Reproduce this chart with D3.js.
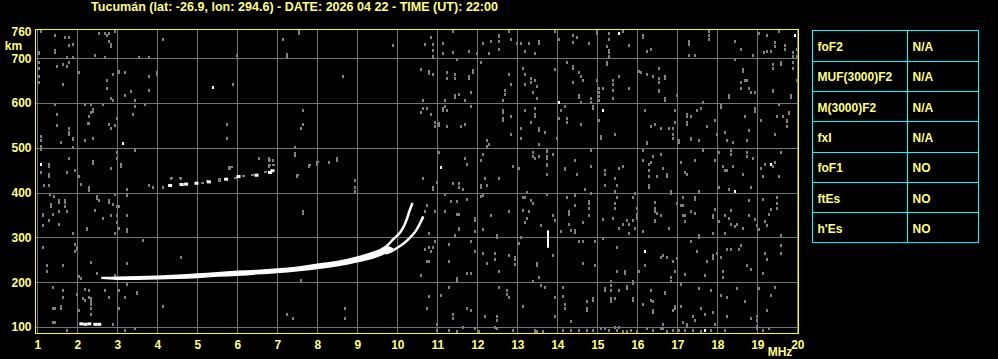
<!DOCTYPE html>
<html>
<head>
<meta charset="utf-8">
<script src="https://cdn.jsdelivr.net/npm/d3@7"></script>
<style>
  html, body { margin: 0; padding: 0; background: #000; }
  svg { display: block; font-family: "Liberation Sans", Arial, sans-serif; font-weight: bold; }
</style>
</head>
<body>
<div id="wrapper"></div>
<script>
// ---- data ----
const titleText = "Tucumán (lat: -26.9, lon: 294.6) - DATE: 2026 04 22 - TIME (UT): 22:00";
const freqTicks = d3.range(1, 21);                 // MHz
const heightTicks = [100, 200, 300, 400, 500, 600, 700, 760];   // km
const gridHeights = [100, 200, 300, 400, 500, 600, 700];

const paramNames = ["foF2", "MUF(3000)F2", "M(3000)F2", "fxI", "foF1", "ftEs", "h'Es"];
const paramValues = ["N/A", "N/A", "N/A", "N/A", "NO", "NO", "NO"];

// main F trace (band between lower and upper edge)
const mainFreq   = [2.6, 3.0, 3.5, 4.0, 4.5, 5.0, 5.5, 6.0, 6.5, 7.0, 7.5, 8.0, 8.5, 9.0, 9.5, 9.75, 9.9];
const mainTop    = [212, 213, 214, 215, 217, 220, 223, 226, 228, 231, 235, 242, 248, 258, 272, 281, 276];
const mainBottom = [207, 205, 205, 206, 207, 209, 212, 214, 217, 220, 224, 229, 235, 244, 256, 265, 272];

// the two split branches near the critical frequency
const oBranch = [[9.6, 272], [9.75, 282], [9.9, 296], [10.07, 311], [10.17, 326], [10.23, 339], [10.3, 358], [10.38, 377]];
const xBranch = [[9.7, 264], [9.85, 269], [10.0, 277], [10.15, 286], [10.3, 298], [10.45, 313], [10.56, 330], [10.65, 347]];

// second hop echo fragments
const secondHop = [[4.32, 416], [4.61, 418], [4.72, 419], [4.98, 421], [5.29, 424], [5.72, 430],
                   [6.03, 436], [6.48, 439], [6.82, 445], [6.88, 449]];
const secondHopGray = [[4.57, 419], [5.11, 422], [5.23, 427], [5.53, 426], [5.53, 430], [5.78, 452], [5.78, 458],
                       [5.83, 458], [6.15, 437], [6.36, 439], [6.69, 445], [4.57, 432], [4.33, 433], [5.94, 432],
                       [6.78, 473], [6.78, 462], [6.9, 462], [7.48, 440], [7.78, 462], [7.98, 469]];

// low sporadic echo
const esTrace = [[2.1, 107], [2.2, 106], [2.3, 107], [2.45, 106], [2.55, 106]];

// isolated vertical spike [freq, low km, high km]
const spike = [13.78, 277, 316];

// isolated white dots
const whiteDots = [[5.39, 637], [3.14, 511], [1.09, 463], [15.54, 756], [14.04, 603], [15.14, 585], [11.09, 457],
                   [19.34, 465], [19.94, 753], [16.19, 269], [17.69, 94], [18.44, 404]];

// grey noise speckle
const noise = [
  [1.08,762],[1.44,753],[1.69,748],[1.79,748],[1.89,733],[1.79,730],[1.44,719],[1.44,715],[1.04,715],[1.04,711],[1.74,704],[1.89,704],
  [2.54,756],[2.68,756],[2.79,756],[2.74,753],[2.79,739],[2.84,732],[2.84,728],[2.44,708],[2.94,762],[2.69,704],[3.54,704],[3.79,704],
  [4.14,744],[5.99,708],[7.14,744],[7.24,710],[7.24,706],[7.54,760],[7.54,756],[9.89,730],
  [1.04,692],[1.04,679],[1.49,683],[1.64,688],[1.74,683],[1.79,692],[1.04,661],[1.04,648],[1.64,643],[2.04,670],[2.74,652],[2.74,634],
  [2.89,666],[3.04,672],[3.04,669],[3.19,670],[2.84,612],[2.89,608],[3.34,626],[3.19,617],[3.44,608],[3.79,661],[3.99,669],[3.99,665],
  [3.79,630],[5.89,643],[8.64,661],
  [1.44,598],[2.19,598],[2.34,598],[2.64,598],[2.39,587],[2.39,583],[2.34,581],[2.29,572],[1.49,575],[2.26,555],[2.29,555],[1.49,550],
  [1.79,545],[1.79,535],[1.79,531],[1.09,527],[1.09,518],[1.89,523],[1.89,519],[1.59,514],[2.19,518],[2.39,523],[2.79,554],[2.84,545],
  [2.94,550],[2.99,567],[3.44,594],[3.39,576],[3.69,598],[5.74,554],[5.74,523],[7.64,585],[7.64,554],[7.59,545],[1.09,505],[1.09,497],
  [1.89,503],[2.99,491],[2.99,478],[3.44,496],[1.79,478],[1.29,463],[1.29,459],[2.39,471],[2.39,467],[3.09,463],[3.09,459],[2.84,456],
  [1.09,445],[1.29,441],[1.29,437],[1.74,445],[1.94,450],[2.04,438],[4.34,433],[4.59,433],[6.54,478],[6.79,478],[6.79,474],[6.89,474],
  [6.79,460],[7.44,503],[7.44,489],[7.44,485],[7.79,460],[7.99,468],[7.99,465],[8.29,469],[8.49,478],[8.49,474],[7.49,438],[8.94,429],
  [10.84,748],[10.89,733],[10.89,719],[10.89,706],[10.89,702],[10.69,733],[11.14,734],[11.39,762],[11.14,712],[11.39,715],[11.79,716],
  [11.99,712],[12.14,734],[12.34,739],[12.54,753],[12.54,749],[12.54,739],[12.29,712],[12.54,721],[12.79,762],[12.84,744],[12.99,734],
  [13.09,734],[13.29,734],[13.54,739],[13.54,735],[13.19,716],[13.44,712],[13.94,762],[14.04,744],[14.39,753],[14.39,737],[14.49,748],
  [14.79,734],[14.99,760],[14.99,756],[15.29,756],[15.29,742],[15.24,728],[15.29,719],[15.29,715],[15.29,706],[15.64,762],[15.79,730],
  [16.14,751],[16.14,747],[16.24,716],[16.34,721],[17.29,739],[17.29,735],[17.29,732],[17.29,708],[17.44,708],[17.79,762],[17.79,753],
  [17.79,744],[18.44,739],[18.59,721],[18.89,708],[19.04,756],[19.24,753],[19.44,737],[19.44,728],[19.54,762],[19.69,730],[19.69,721],
  [19.24,716],[19.16,713],[19.34,716],[19.89,713],[19.89,706],[19.99,721],[19.99,706],
  [10.59,675],[10.79,672],[10.79,668],[10.89,666],[11.24,669],[11.24,655],[11.44,666],[11.44,657],[11.49,698],[11.79,661],[11.79,657],
  [11.89,673],[11.89,669],[12.09,692],[11.44,617],[11.44,613],[11.54,621],[11.69,608],[11.84,625],[11.19,608],[10.64,608],[12.69,630],
  [12.69,621],[12.84,643],[12.79,666],[12.64,608],[13.14,679],[13.19,666],[13.19,643],[13.34,657],[13.34,648],[13.44,652],[13.49,639],
  [13.39,625],[13.49,612],[13.94,675],[14.24,692],[14.39,683],[14.39,679],[14.54,670],[14.59,661],[14.64,652],[14.39,648],[14.54,618],
  [14.54,614],[14.59,603],[14.84,612],[14.84,603],[14.99,652],[15.04,634],[15.04,625],[15.04,616],[15.04,608],[15.24,692],[15.24,688],
  [15.39,652],[15.39,643],[15.54,661],[15.39,630],[15.39,612],[15.14,634],[15.79,634],[16.04,672],[16.09,670],[16.24,666],[16.39,661],
  [16.54,679],[16.54,657],[16.54,648],[16.69,661],[16.69,657],[16.54,630],[16.54,626],[16.69,612],[16.69,608],[16.99,617],[17.64,603],
  [18.29,617],[18.29,613],[18.44,698],[18.64,675],[18.64,671],[18.59,648],[18.69,652],[18.74,652],[18.79,634],[18.84,625],[18.59,634],
  [18.94,625],[19.39,630],[19.39,626],[19.39,688],[19.39,679],[19.59,692],[19.59,688],[19.89,692],[19.89,679],[19.84,617],[19.84,613],
  [19.99,652],
  [10.64,590],[10.59,581],[10.74,590],[10.84,576],[10.94,558],[10.94,549],[11.04,555],[11.04,551],[11.14,590],[11.14,585],[11.24,585],
  [11.19,594],[11.24,549],[11.59,549],[11.69,554],[11.84,594],[12.64,585],[12.64,581],[12.64,567],[12.64,563],[12.84,572],[12.84,532],
  [12.24,518],[12.24,505],[12.29,509],[13.19,585],[13.09,545],[13.34,558],[13.44,590],[13.44,576],[13.44,572],[13.54,545],[13.54,541],
  [13.69,536],[13.09,523],[13.54,509],[13.99,523],[14.09,585],[14.19,594],[14.04,567],[14.24,567],[14.24,558],[14.59,554],[14.89,594],
  [14.89,590],[15.04,563],[15.09,527],[15.09,523],[15.44,532],[16.19,585],[16.34,549],[16.44,554],[16.59,545],[16.24,514],[16.24,510],
  [16.79,545],[16.89,545],[16.89,532],[16.89,523],[16.94,585],[16.94,558],[17.24,576],[17.24,572],[17.34,572],[17.24,558],[17.24,554],
  [17.49,585],[17.59,590],[17.34,523],[17.34,519],[17.04,518],[17.04,514],[17.54,518],[17.74,549],[17.94,563],[17.99,532],[18.09,596],
  [18.09,592],[18.19,536],[18.24,518],[18.39,514],[18.69,572],[18.79,541],[18.74,518],[18.94,590],[18.94,586],[18.94,582],[19.09,563],
  [19.44,532],[19.49,572],[19.64,572],[19.74,563],[19.74,559],[19.79,581],[19.79,577],[19.74,549],[19.54,599],
  [10.64,433],[11.04,491],[11.69,478],[11.74,465],[12.14,487],[12.09,474],[12.19,433],[12.54,433],[12.89,460],[13.04,456],[13.39,491],
  [13.39,482],[13.44,478],[13.54,482],[13.74,496],[13.74,492],[13.74,482],[13.74,478],[13.74,465],[13.74,461],[13.74,442],[13.89,487],
  [14.19,456],[14.19,452],[14.44,474],[14.49,442],[14.84,496],[14.84,460],[15.19,451],[15.19,442],[15.44,433],[15.54,456],[15.64,460],
  [16.14,496],[16.14,474],[16.29,465],[16.29,451],[16.29,438],[16.39,482],[16.34,469],[16.59,487],[16.49,438],[16.64,456],[16.74,441],
  [16.74,437],[17.09,469],[17.19,447],[17.24,442],[17.44,474],[17.64,496],[17.94,474],[18.04,491],[18.14,460],[18.19,451],[18.24,451],
  [18.34,496],[18.34,487],[18.39,460],[18.64,442],[18.74,491],[18.74,482],[18.89,478],[19.09,456],[19.19,465],[19.39,460],[19.44,469],
  [19.59,491],[19.54,438],[19.14,438],
  [1.17,417],[1.29,417],[2.09,420],[2.29,413],[2.29,405],[3.24,409],[3.8,417],[3.9,413],[4.14,413],[8.94,413],[8.94,404],[1.42,393],
  [1.32,398],[1.54,384],[1.54,380],[1.69,384],[1.69,380],[1.34,375],[1.34,371],[1.39,353],[1.14,353],[1.14,349],[1.14,328],[1.29,340],
  [1.54,358],[1.54,331],[1.69,371],[1.74,358],[1.89,310],[2.24,322],[2.24,318],[2.49,393],[2.49,389],[2.54,384],[2.44,362],[2.64,344],
  [2.79,384],[2.79,380],[2.89,374],[2.99,371],[3.04,371],[2.84,349],[2.94,398],[2.99,349],[2.99,335],[3.04,322],[3.24,318],[3.24,314],
  [2.94,310],[3.24,395],[3.24,349],[3.64,295],[1.14,279],[1.94,285],[1.94,270],[2.0,279],[2.0,275],[2.34,246],[3.24,243],[4.59,256],
  [7.64,358],[7.64,354],[1.24,238],[1.24,225],[1.64,238],[2.04,214],[2.09,210],[2.49,221],[2.94,216],[1.39,189],[1.64,182],[1.64,168],
  [1.99,173],[2.19,185],[2.29,182],[2.29,168],[2.34,164],[2.34,159],[2.34,152],[2.34,143],[2.14,165],[2.19,161],[2.69,182],[2.79,167],
  [3.04,182],[3.19,168],[3.24,195],[3.49,179],[3.49,175],[1.39,143],[1.44,143],[1.59,146],[1.59,142],[2.04,139],[2.34,130],[3.04,143],
  [2.89,107],[1.39,112],[1.44,112],[1.74,94],[3.19,94],[3.44,98],[4.14,148],[7.24,130],[7.39,121],[8.69,143],[8.69,121],[7.59,204],
  [10.89,413],[10.89,409],[10.99,424],[11.39,422],[11.54,422],[11.54,413],[11.64,409],[12.09,417],[12.09,413],[12.24,417],[11.19,398],
  [11.34,381],[11.49,381],[11.74,386],[12.09,393],[12.14,395],[10.74,372],[10.69,358],[10.94,359],[11.19,359],[11.54,353],[11.49,353],
  [11.94,344],[11.94,340],[11.54,322],[11.54,318],[11.44,305],[10.79,310],[11.94,314],[12.34,350],[12.49,305],[12.49,301],[12.79,359],
  [12.14,319],[13.14,390],[13.19,390],[13.24,402],[13.34,384],[13.39,377],[13.14,362],[13.29,358],[13.24,344],[13.19,335],[13.59,328],
  [13.74,398],[13.89,350],[13.94,340],[13.09,301],[14.09,314],[14.24,390],[14.44,395],[14.29,358],[14.29,353],[14.44,372],[14.64,335],
  [14.79,381],[14.79,377],[14.79,366],[14.79,349],[14.84,399],[14.69,408],[14.29,331],[14.44,317],[14.44,313],[14.34,317],[15.19,417],
  [15.49,417],[15.44,404],[15.44,377],[15.44,366],[15.49,390],[15.14,341],[15.39,344],[15.64,331],[15.74,340],[15.79,331],[15.89,340],
  [15.79,310],[15.54,322],[15.14,299],[15.94,322],[15.99,353],[15.99,344],[15.99,366],[15.99,349],[15.89,390],[15.94,399],[16.14,314],
  [16.29,417],[16.29,413],[16.44,380],[16.44,366],[16.44,358],[16.49,355],[16.59,350],[16.44,340],[16.44,336],[16.79,322],[16.84,404],
  [16.84,400],[16.99,377],[17.14,390],[17.09,372],[17.14,372],[17.14,349],[17.19,349],[17.19,337],[17.34,359],[17.44,390],[17.44,386],
  [17.44,355],[17.54,404],[17.54,305],[17.54,301],[17.89,349],[17.89,345],[17.94,363],[17.89,310],[18.04,413],[18.29,408],[18.84,413],
  [18.04,337],[18.19,349],[18.29,344],[18.34,331],[18.49,331],[18.44,326],[18.34,362],[18.19,310],[18.64,322],[18.94,341],[18.99,328],
  [19.04,319],[18.79,384],[18.79,350],[19.14,386],[19.19,337],[19.24,328],[19.34,363],[19.49,390],[19.49,377],[19.49,366],[19.29,353],
  [19.59,305],
  [10.94,292],[10.69,274],[10.79,279],[10.89,279],[10.84,270],[11.29,285],[11.84,292],[11.94,270],[10.74,247],[10.79,247],[10.59,216],
  [11.29,247],[11.74,221],[11.84,221],[11.49,210],[11.49,206],[12.14,265],[12.24,243],[12.44,265],[12.44,252],[12.54,225],[12.79,261],
  [12.94,256],[12.94,252],[12.94,241],[13.04,287],[13.49,243],[13.49,239],[13.54,212],[13.39,203],[13.89,261],[14.54,292],[14.64,293],
  [14.94,292],[14.64,243],[14.94,238],[15.49,279],[15.49,225],[15.69,225],[15.69,221],[15.89,203],[15.89,199],[16.04,225],[16.19,238],
  [16.64,261],[16.74,256],[16.59,256],[16.89,247],[16.99,255],[17.34,292],[17.49,270],[17.89,261],[17.89,257],[17.89,253],[17.74,247],
  [18.09,256],[17.99,265],[18.24,274],[18.34,274],[18.54,274],[18.59,283],[18.74,238],[18.84,229],[19.19,265],[19.24,252],[19.59,283],
  [19.59,265],[16.94,225],[16.84,212],[16.84,203],[17.19,219],[17.69,216],[18.14,225],[18.14,212],[19.14,221],
  [10.79,170],[10.74,143],[11.09,171],[11.29,189],[11.39,130],[11.39,119],[11.74,143],[11.84,139],[12.19,125],[12.49,125],[12.49,116],
  [12.54,189],[12.74,183],[12.74,174],[12.79,167],[13.14,148],[13.59,194],[13.69,189],[13.94,167],[13.94,125],[14.14,189],[14.14,170],
  [14.19,152],[14.19,143],[14.34,113],[14.74,157],[14.74,143],[14.74,139],[14.89,165],[14.89,161],[15.19,188],[15.19,183],[15.34,203],
  [15.34,194],[15.34,183],[15.34,165],[15.34,157],[15.44,165],[15.54,183],[15.74,192],[15.74,188],[15.89,165],[15.89,161],[16.14,152],
  [16.34,183],[16.34,161],[16.39,157],[16.39,139],[16.39,134],[16.69,179],[16.69,175],[16.94,148],[16.94,143],[16.89,139],[17.09,197],
  [17.09,148],[17.14,112],[17.24,107],[17.24,103],[17.54,188],[17.59,143],[17.39,125],[17.44,116],[17.69,130],[17.84,183],[17.89,134],
  [17.94,107],[18.09,171],[18.24,168],[18.24,125],[18.49,188],[18.69,157],[18.84,121],[18.99,125],[18.99,116],[19.04,188],[19.24,139],
  [19.34,171],[19.44,189],
  [10.99,106],[10.99,94],[11.29,94],[11.49,91],[11.64,101],[11.94,98],[12.04,91],[12.44,101],[12.49,98],[12.89,94],[13.44,94],[13.44,90],
  [13.49,90],[13.64,90],[14.14,94],[14.34,94],[14.54,94],[14.74,94],[14.89,94],[15.09,98],[15.19,98],[15.29,94],[15.44,101],[15.49,94],
  [15.54,101],[15.64,90],[15.74,90],[15.84,94],[15.99,90],[16.24,98],[16.39,94],[16.59,98],[16.64,98],[16.64,107],[16.74,91],[16.89,94],
  [17.04,94],[17.19,94],[17.39,94],[17.59,91],[17.84,94],[18.19,94],[18.99,98],[18.99,103],[19.14,94],[19.29,98]
];

// ---- drawing ----
function buildPlot() {
    const width = 998, height = 359;
    // pixel frame of the plotting area
    const frame = { left: 35.5, right: 798.5, top: 29.5, bottom: 333.5 };
    const textColor = "#ffff80";
    const gridColor = "#737373";
    const noiseColor = "#808080";

    const svg = d3.select("#wrapper").append("svg")
        .attr("width", width)
        .attr("height", height)
        .style("background", "#000");

    const xScaler = d3.scaleLinear().domain([1, 20]).range([37.3, 797.3]);
    const yScaler = d3.scaleLinear().domain([100, 700]).range([327, 58.3]);

    // title
    svg.append("text")
        .attr("x", 91).attr("y", 11)
        .attr("font-size", 12)
        .attr("fill", textColor)
        .attr("textLength", 407)
        .attr("lengthAdjust", "spacingAndGlyphs")
        .text(titleText);

    // grid
    const grid = svg.append("g").attr("stroke", gridColor).attr("stroke-width", 1);
    grid.selectAll(".vline").data(freqTicks).join("line")
        .attr("x1", d => Math.round(xScaler(d)) + 0.5)
        .attr("x2", d => Math.round(xScaler(d)) + 0.5)
        .attr("y1", frame.top).attr("y2", frame.bottom);
    grid.selectAll(".hline").data(gridHeights).join("line")
        .attr("x1", frame.left).attr("x2", frame.right)
        .attr("y1", d => Math.round(yScaler(d)) + 0.5)
        .attr("y2", d => Math.round(yScaler(d)) + 0.5);

    // noise speckle
    svg.append("g").attr("fill", noiseColor)
        .selectAll("rect").data(noise).join("rect")
        .attr("x", d => Math.round(xScaler(d[0])) - 1)
        .attr("y", d => Math.round(yScaler(d[1])) - 1)
        .attr("width", 2).attr("height", 3);

    svg.append("g").attr("fill", noiseColor)
        .selectAll("rect").data(secondHopGray).join("rect")
        .attr("x", d => Math.round(xScaler(d[0])) - 1)
        .attr("y", d => Math.round(yScaler(d[1])) - 1)
        .attr("width", 3).attr("height", 2);

    // main trace as a band
    const band = mainFreq.map((f, i) => ({ f: f, top: mainTop[i], bottom: mainBottom[i] }));
    const area = d3.area()
        .x(d => xScaler(d.f))
        .y0(d => yScaler(d.bottom))
        .y1(d => yScaler(d.top))
        .curve(d3.curveMonotoneX);
    svg.append("path")
        .attr("d", area(band))
        .attr("fill", "#fff");

    const branchLine = d3.line()
        .x(d => xScaler(d[0]))
        .y(d => yScaler(d[1]))
        .curve(d3.curveCatmullRom);
    [oBranch, xBranch].forEach(b => {
        svg.append("path")
            .attr("d", branchLine(b))
            .attr("fill", "none")
            .attr("stroke", "#fff")
            .attr("stroke-width", 2.5);
    });

    // second hop and Es fragments
    svg.append("g").attr("fill", "#fff")
        .selectAll("rect").data(secondHop).join("rect")
        .attr("x", d => xScaler(d[0]) - 2)
        .attr("y", d => yScaler(d[1]) - 1.5)
        .attr("width", 4).attr("height", 3);
    svg.append("g").attr("fill", "#fff")
        .selectAll("rect").data(esTrace).join("rect")
        .attr("x", d => xScaler(d[0]) - 2)
        .attr("y", d => yScaler(d[1]) - 1.5)
        .attr("width", 4).attr("height", 3);

    // spike
    svg.append("rect")
        .attr("x", Math.round(xScaler(spike[0])) - 1)
        .attr("y", yScaler(spike[2]))
        .attr("width", 2)
        .attr("height", yScaler(spike[1]) - yScaler(spike[2]))
        .attr("fill", "#fff");

    svg.append("g").attr("fill", "#fff")
        .selectAll("rect").data(whiteDots).join("rect")
        .attr("x", d => Math.round(xScaler(d[0])) - 1)
        .attr("y", d => Math.round(yScaler(d[1])) - 1)
        .attr("width", 2).attr("height", 3);

    // frame
    svg.append("rect")
        .attr("x", frame.left).attr("y", frame.top)
        .attr("width", frame.right - frame.left)
        .attr("height", frame.bottom - frame.top)
        .attr("fill", "none")
        .attr("stroke", "#ffff00")
        .attr("stroke-width", 1);

    // axes
    const xAxis = svg.append("g")
        .attr("transform", `translate(0, ${frame.bottom})`)
        .call(d3.axisBottom(xScaler).tickValues(freqTicks).tickSize(0).tickPadding(6.5).tickFormat(d3.format("d")));
    const yAxis = svg.append("g")
        .attr("transform", `translate(${frame.left}, 0)`)
        .call(d3.axisLeft(yScaler).tickValues(heightTicks).tickSize(0).tickPadding(4).tickFormat(d3.format("d")));
    [xAxis, yAxis].forEach(a => {
        a.select(".domain").remove();
        a.selectAll("text")
            .attr("fill", textColor)
            .attr("font-size", 12)
            .attr("font-family", "Liberation Sans, Arial, sans-serif")
            .attr("font-weight", "bold");
    });

    svg.append("text").attr("x", 13.5).attr("y", 49.5)
        .attr("text-anchor", "middle").attr("font-size", 12)
        .attr("fill", textColor).text("km");
    svg.append("text").attr("x", 780).attr("y", 356)
        .attr("text-anchor", "middle").attr("font-size", 12)
        .attr("fill", textColor).text("MHz");

    // parameter table
    const table = { left: 812.5, right: 978.5, mid: 907.5, top: 30.5, rowH: 30.3 };
    const rowScale = d3.scaleBand().domain(paramNames)
        .range([table.top, table.top + table.rowH * paramNames.length]);
    const tg = svg.append("g");
    tg.append("rect")
        .attr("x", table.left).attr("y", table.top)
        .attr("width", table.right - table.left)
        .attr("height", rowScale.range()[1] - table.top)
        .attr("fill", "none").attr("stroke", "#00ffff");
    tg.append("line")
        .attr("x1", table.mid).attr("x2", table.mid)
        .attr("y1", table.top).attr("y2", rowScale.range()[1])
        .attr("stroke", "#00ffff");
    tg.selectAll(".sep").data(paramNames.slice(1)).join("line")
        .attr("x1", table.left).attr("x2", table.right)
        .attr("y1", d => Math.round(rowScale(d)) + 0.5)
        .attr("y2", d => Math.round(rowScale(d)) + 0.5)
        .attr("stroke", "#00ffff");
    tg.selectAll(".name").data(paramNames).join("text")
        .attr("x", 817.5)
        .attr("y", d => rowScale(d) + 20.5)
        .attr("font-size", 12).attr("fill", textColor)
        .text(d => d);
    tg.selectAll(".val").data(paramValues).join("text")
        .attr("x", 912.5)
        .attr("y", (d, i) => rowScale(paramNames[i]) + 20.5)
        .attr("font-size", 12).attr("fill", textColor)
        .text(d => d);
}

buildPlot();
</script>
</body>
</html>
